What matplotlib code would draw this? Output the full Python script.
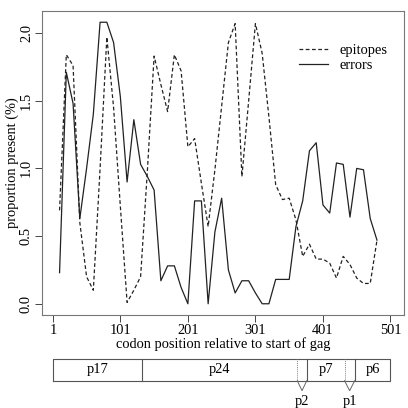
import numpy as np
import matplotlib
matplotlib.use('Agg')
import matplotlib.pyplot as plt

plt.rcParams['font.family'] = ['Liberation Serif', 'DejaVu Serif']

# codon positions (every 10 codons)
codon = np.arange(11, 482, 10)

epitopes = [0.69, 1.84, 1.76, 0.60, 0.20, 0.10, 1.00, 1.97, 1.45, 0.72,
            0.01, 0.10, 0.20, 0.98, 1.83, 1.62, 1.42, 1.84, 1.72, 1.16,
            1.22, 0.89, 0.57, 0.99, 1.46, 1.93, 2.07, 0.94, 1.50, 2.07,
            1.85, 1.38, 0.88, 0.77, 0.78, 0.62, 0.35, 0.44, 0.33, 0.33,
            0.30, 0.19, 0.35, 0.29, 0.19, 0.15, 0.15, 0.47]

errors = [0.23, 1.71, 1.48, 0.63, 1.00, 1.40, 2.08, 2.08, 1.93, 1.53,
          0.90, 1.36, 1.03, 0.94, 0.84, 0.17, 0.28, 0.28, 0.12, 0.00,
          0.76, 0.76, 0.00, 0.53, 0.78, 0.25, 0.08, 0.17, 0.17, 0.08,
          0.00, 0.00, 0.18, 0.18, 0.18, 0.57, 0.76, 1.13, 1.19, 0.73,
          0.67, 1.04, 1.03, 0.64, 1.00, 0.99, 0.63, 0.47]

xticks = [1, 101, 201, 301, 401, 501]
yticks = [0.0, 0.5, 1.0, 1.5, 2.0]

# gag proteins: name, first codon, last codon
prot_names = ['p17', 'p24', 'p2', 'p7', 'p1', 'p6']
prot_start = [1, 133, 363, 377, 433, 448]
prot_end = [133, 363, 377, 433, 448, 501]

W = 408
fs = 10.4
fig = plt.figure(figsize=(4.08, 4.08), dpi=100)
ax = fig.add_axes([42 / W, 1 - 315 / W, 362 / W, 304 / W])

lc = '#222222'
ax.plot(codon, epitopes, color=lc, lw=0.9, linestyle=(0, (3, 2)), label='epitopes')
ax.plot(codon, errors, color=lc, lw=0.9, label='errors')

ax.set_xlim(-15, 521)
ax.set_ylim(-0.083, 2.163)
ax.set_xticks(xticks)
ax.set_xticklabels([str(t) for t in xticks], fontsize=fs)
ax.set_yticks(yticks)
ax.set_yticklabels(['%.1f' % t for t in yticks], fontsize=fs, rotation=90, va='center')
ax.tick_params(color='#444444', length=5, width=0.7, pad=1.5)
for s in ax.spines.values():
    s.set_color('#777777')
    s.set_linewidth(0.8)
ax.set_xlabel('codon position relative to start of gag', fontsize=fs, labelpad=0)
ax.set_ylabel('proportion present (%)', fontsize=fs, labelpad=1)

leg = ax.legend(loc='upper right', bbox_to_anchor=(0.99, 0.935), frameon=False,
                fontsize=fs, handlelength=2.0, handletextpad=0.8, labelspacing=0.15)

# gene map underneath
ax2 = fig.add_axes([42 / W, 0, 362 / W, 58 / W])
ax2.set_xlim(-15, 521)
ax2.set_ylim(0, 58)
ax2.axis('off')
ybot, ytop = 27.3, 48.7
box_c = '#555555'
ax2.plot([prot_start[0], prot_end[-1], prot_end[-1], prot_start[0], prot_start[0]],
         [ybot, ybot, ytop, ytop, ybot], color=box_c, lw=0.8)
for name, a, b in zip(prot_names, prot_start, prot_end):
    if name in ('p2', 'p1'):
        for xx in (a, b):
            ax2.plot([xx, xx], [ybot, ytop], color='#888888', lw=0.7, linestyle=(0, (1, 1)))
        mid = (a + b) / 2
        ax2.plot([a, mid, b], [ybot, 17.3, ybot], color='#666666', lw=0.7)
        ax2.text(mid, 6.0, name, ha='center', va='center', fontsize=fs)
    else:
        if a > 1:
            ax2.plot([a, a], [ybot, ytop], color=box_c, lw=0.8)
        ax2.text((a + b) / 2, (ybot + ytop) / 2 + 1, name, ha='center', va='center', fontsize=fs)

fig.savefig('out.png', dpi=100)
